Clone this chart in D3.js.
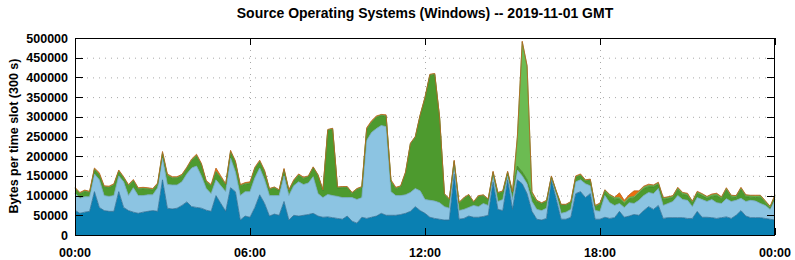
<!DOCTYPE html>
<html><head><meta charset="utf-8">
<script src="https://cdn.jsdelivr.net/npm/d3@7"></script>
<style>body{margin:0;background:#fff}svg{display:block}text{font-family:"Liberation Sans",Arial,sans-serif;font-weight:bold;fill:#000}</style>
</head><body><svg id="c" width="795" height="260"></svg>
<script>
// 10-minute samples, values in thousands of bytes per 300 s slot
const minutes = d3.range(0, 1441, 10);
const darkBlue = [63,55,58,60,110,70,62,60,60,110, 70,62,58,55,58,60,62,60,140,68, 66,68,75,84,72,70,68,63,60,100, 80,60,120,110,38,48,45,70,102,80,
 48,53,50,85,38,50,48,50,52,55, 48,45,46,44,42,40,48,35,30,45, 42,45,48,55,50,50,50,52,55,60, 72,62,55,45,42,40,38,38,155,40,
 42,48,45,45,47,50,135,65,62,140, 65,140,130,105,60,40,38,42,140,90, 40,40,45,105,110,95,105,40,40,45, 42,44,60,45,48,52,50,62,72,65,
 75,42,44,44,44,44,42,42,60,45, 45,44,42,44,46,42,50,62,48,44, 44,44,42,40,38];
const lightBlue = [43,38,39,37,45,70,38,38,40,40, 65,38,62,45,42,42,40,60,55,60, 61,59,60,71,98,105,82,55,45,40, 45,50,75,50,62,62,65,75,68,60,
 52,47,50,65,62,75,87,78,80,93, 57,50,57,56,56,55,47,60,60,50, 198,215,222,223,225,60,50,48,47,48, 46,50,35,43,44,42,34,30,20,22,
 23,22,30,27,33,25,15,20,28,10, 25,25,20,25,25,25,24,26,5,15, 15,18,20,30,30,35,20,22,20,55, 40,31,20,25,34,28,38,38,36,40,
 43,33,36,41,56,46,46,30,35,45, 40,46,40,36,46,43,38,31,37,44, 42,36,33,25,52];
const green = [11,11,13,10,11,12,21,22,26,11, 9,24,17,16,17,14,12,8,12,22, 17,17,15,13,19,25,28,16,19,20, 19,17,15,24,24,19,20,23,15,20,
 15,19,12,15,12,11,16,15,15,22, 45,17,162,168,21,25,25,10,25,25, 27,25,28,25,26,25,17,22,55,122, 129,190,257,317,321,215,30,21,11,18,
 27,30,7,25,19,14,8,20,19,8, 17,10,10,10,15,20,17,17,2,4, 20,17,17,11,11,7,14,10,16,10, 16,16,12,10,10,14,18,18,14,17,
 10,15,12,10,15,13,12,9,10,10, 8,8,18,12,22,11,7,22,12,8, 9,16,7,3,7];
const lightGreen = [2,2,2,2,2,2,2,2,2,2, 2,2,2,2,2,2,2,2,2,2, 2,2,2,2,2,2,2,2,2,2, 2,2,2,2,2,2,2,2,2,2,
 2,2,2,2,2,2,2,2,2,2, 2,2,2,2,2,2,2,2,2,2, 2,2,2,2,2,2,2,2,2,2, 2,2,2,2,2,2,2,2,2,2,
 2,2,2,2,2,2,2,2,2,2, 2,73,330,288,8,2,2,2,2,2, 2,2,2,2,2,2,2,2,4,4, 4,4,4,4,4,4,4,4,4,4,
 4,4,4,4,4,4,4,4,4,4, 4,4,4,4,4,4,4,4,4,4, 4,4,4,4,4];
const orange = [2,2,2,2,2,4,2,2,2,2, 2,2,2,2,2,2,2,2,3,3, 2,2,2,2,2,3,2,2,2,8, 4,1,3,2,2,2,3,2,3,2,
 1,1,1,2,1,2,2,2,1,1, 1,1,1,1,1,1,1,1,1,1, 3,3,2,1,2,3,2,1,1,1, 1,1,1,1,1,1,1,1,2,1,
 1,1,1,1,1,1,2,1,1,2, 1,2,2,2,2,1,1,1,1,1, 1,1,1,2,2,1,1,1,1,1, 1,1,11,4,6,14,2,2,3,1,
 2,1,1,1,2,1,2,1,2,1, 1,2,2,1,2,1,1,2,1,1, 2,1,1,1,1];
const seriesNames = ["darkBlue","lightBlue","green","lightGreen","orange"];
const seriesData = [darkBlue, lightBlue, green, lightGreen, orange];
const fills = ["#0a80b2","#8cc4e2","#4d9a2e","#6cbb52","#ec6e10"];
const edges = ["#2f6f94","#74a8c4","#3f8226","#5a9c44","#b8651c"];
const yTicks = [0,50,100,150,200,250,300,350,400,450,500];
const yTickLabels = ["0","50000","100000","150000","200000","250000","300000","350000","400000","450000","500000"];
const xTicks = [0,360,720,1080,1440];
const xTickLabels = ["00:00","06:00","12:00","18:00","00:00"];
const title = "Source Operating Systems (Windows) -- 2019-11-01 GMT";
const yLabel = "Bytes per time slot (300 s)";

const L=75,R=775,T=38,B=235;
const svg=d3.select("#c");
const x=d3.scaleLinear().domain([0,1440]).range([L,R]);
const y=d3.scaleLinear().domain([0,500]).range([B,T]);

const rows=minutes.map((m,i)=>{const o={m};seriesNames.forEach((n,k)=>o[n]=seriesData[k][i]);return o;});
const stack=d3.stack().keys(seriesNames)(rows);

// grid
const g=svg.append("g");
g.selectAll(".gy").data(yTicks.slice(1,-1)).join("line")
 .attr("x1",L).attr("x2",R).attr("y1",d=>y(d)+0.5).attr("y2",d=>y(d)+0.5)
 .attr("stroke","#a8a8a8").attr("stroke-dasharray","1,5").attr("stroke-width",1);
g.selectAll(".gx").data(xTicks.slice(1,-1)).join("line")
 .attr("y1",T).attr("y2",B).attr("x1",d=>Math.round(x(d))+0.5).attr("x2",d=>Math.round(x(d))+0.5)
 .attr("stroke","#a8a8a8").attr("stroke-dasharray","1,5").attr("stroke-width",1);

const area=d3.area().x(d=>x(d.data.m)).y0(d=>y(d[0])).y1(d=>y(d[1]));
const line=d3.line().x(d=>x(d.data.m)).y(d=>y(d[1]));
svg.append("g").selectAll("path").data(stack).join("path")
 .attr("d",area).attr("fill",(d,i)=>fills[i]);
svg.append("g").selectAll("path").data(stack).join("path")
 .attr("d",line).attr("fill","none").attr("stroke",(d,i)=>edges[i]).attr("stroke-width",0.8);

// frame
svg.append("rect").attr("x",L+0.5).attr("y",T+0.5).attr("width",R-L-1).attr("height",B-T).attr("fill","none").attr("stroke","#000").attr("stroke-width",1);
// ticks and labels
const ax=svg.append("g");
yTicks.forEach((t,i)=>{
 const yy=Math.round(y(t))+0.5;
 ax.append("line").attr("x1",L).attr("x2",L+8).attr("y1",yy).attr("y2",yy).attr("stroke","#000");
 ax.append("line").attr("x1",R-8).attr("x2",R).attr("y1",yy).attr("y2",yy).attr("stroke","#000");
 ax.append("text").attr("x",L-7).attr("y",y(t)).attr("dy","0.36em").attr("text-anchor","end").attr("font-size","12.5px").text(yTickLabels[i]);
});
xTicks.forEach((t,i)=>{
 const xx=Math.round(x(t))+0.5;
 ax.append("line").attr("x1",xx).attr("x2",xx).attr("y1",T).attr("y2",T+7).attr("stroke","#000");
 ax.append("line").attr("x1",xx).attr("x2",xx).attr("y1",B-7).attr("y2",B).attr("stroke","#000");
 ax.append("text").attr("x",x(t)).attr("y",252).attr("dy","0.36em").attr("text-anchor","middle").attr("font-size","12.5px").text(xTickLabels[i]);
});
svg.append("text").attr("x",425).attr("y",13).attr("dy","0.36em").attr("text-anchor","middle").attr("font-size","14px").text(title);
svg.append("text").attr("transform","translate(13,136) rotate(-90)").attr("dy","0.36em").attr("text-anchor","middle").attr("font-size","12.5px").text(yLabel);
</script></body></html>
